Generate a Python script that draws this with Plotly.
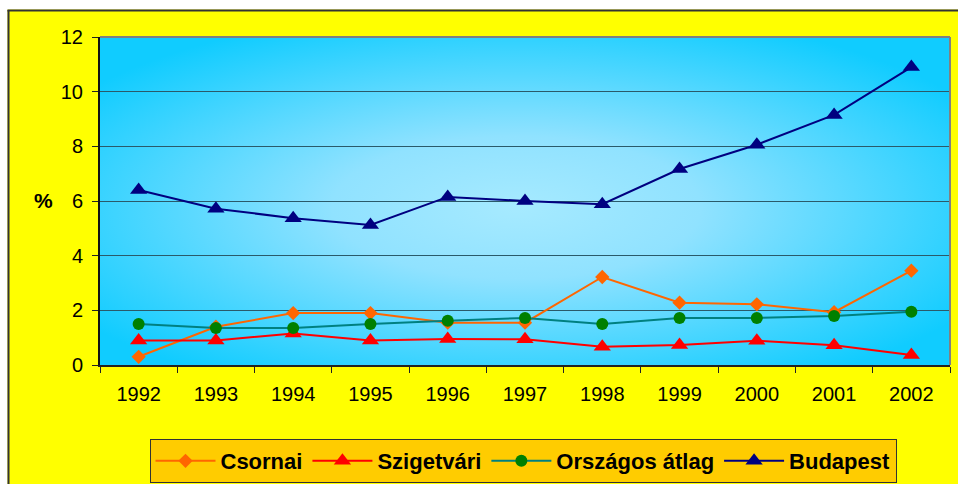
import plotly.graph_objects as go
import urllib.parse

years = ["1992", "1993", "1994", "1995", "1996", "1997", "1998", "1999", "2000", "2001", "2002"]
csornai = [0.3, 1.4, 1.9, 1.9, 1.55, 1.55, 3.22, 2.28, 2.22, 1.93, 3.45]
szigetvari = [0.9, 0.9, 1.15, 0.9, 0.95, 0.94, 0.67, 0.73, 0.89, 0.72, 0.37]
orszagos = [1.5, 1.35, 1.35, 1.5, 1.62, 1.72, 1.5, 1.72, 1.72, 1.79, 1.95]
budapest = [6.4, 5.72, 5.37, 5.12, 6.15, 6.0, 5.88, 7.17, 8.06, 9.15, 10.9]
y_ticks = [0, 2, 4, 6, 8, 10, 12]

W, H = 958, 484
L, R, T, B = 100, 8, 37, 119
pw = W - L - R
ph = H - T - B

svg = ("<svg xmlns='http://www.w3.org/2000/svg' width='850' height='328' preserveAspectRatio='none'>"
       "<defs><radialGradient id='g' cx='0.49' cy='0.52' r='0.62'>"
       "<stop offset='0' stop-color='#A6EAFF'/>"
       "<stop offset='0.35' stop-color='#90E2FF'/>"
       "<stop offset='1' stop-color='#10CCFF'/>"
       "</radialGradient></defs>"
       "<rect width='850' height='328' fill='url(#g)'/></svg>")
src = "data:image/svg+xml;charset=utf-8," + urllib.parse.quote(svg)

fig = go.Figure()

def add(name, vals, color, lcolor, symbol, size):
    fig.add_trace(go.Scatter(
        x=years, y=vals, name=name, mode="lines+markers",
        line=dict(color=lcolor, width=2),
        marker=dict(symbol=symbol, size=size, color=color),
    ))

add("Csornai", csornai, "#FF6600", "#FF6600", "diamond", 11)
add("Szigetvári", szigetvari, "#FF0000", "#FF0000", "triangle-up", 15)
add("Országos átlag", orszagos, "#008000", "#008080", "circle", 12)
add("Budapest", budapest, "#000080", "#000080", "triangle-up", 15)

def px_x(px):
    return (px - L) / pw

def px_y(py):
    return (H - B - py) / ph

shapes = [
    dict(type="rect", xref="paper", yref="paper", x0=px_x(-5), x1=px_x(W + 5), y0=px_y(-5), y1=px_y(9.5),
         fillcolor="white", line=dict(width=0), layer="above"),
    dict(type="rect", xref="paper", yref="paper", x0=px_x(-5), x1=px_x(7.5), y0=px_y(H + 5), y1=px_y(-5),
         fillcolor="white", line=dict(width=0), layer="above"),
    dict(type="line", xref="paper", yref="paper", x0=px_x(7.5), x1=px_x(W + 5), y0=px_y(10.5), y1=px_y(10.5),
         line=dict(color="#333333", width=2), layer="above"),
    dict(type="line", xref="paper", yref="paper", x0=px_x(8.5), x1=px_x(8.5), y0=px_y(10), y1=px_y(H + 5),
         line=dict(color="#333333", width=2), layer="above"),
    dict(type="line", xref="paper", yref="paper", x0=0, x1=1, y0=1, y1=1,
         line=dict(color="#808080", width=2), layer="above"),
    dict(type="line", xref="paper", yref="paper", x0=1, x1=1, y0=0, y1=1,
         line=dict(color="#808080", width=2), layer="above"),
]

fig.update_layout(
    width=W, height=H,
    margin=dict(l=L, r=R, t=T, b=B, autoexpand=False),
    paper_bgcolor="#FFFF00",
    plot_bgcolor="rgba(0,0,0,0)",
    font=dict(family="Arial, Liberation Sans, sans-serif", size=20, color="black"),
    showlegend=True,
    legend=dict(
        orientation="h", x=px_x(523), xanchor="center", y=px_y(483), yanchor="bottom",
        bgcolor="#FFCC00", bordercolor="#333333", borderwidth=1,
        font=dict(family="Arial, Liberation Sans, sans-serif", size=22, color="black", weight="bold"),
        itemwidth=60, tracegroupgap=0,
    ),
    images=[dict(source=src, xref="paper", yref="paper", x=0, y=1, sizex=1, sizey=1,
                 sizing="stretch", xanchor="left", yanchor="top", layer="below")],
    shapes=shapes,
    annotations=[dict(text="<b>%</b>", xref="paper", yref="paper", x=px_x(44), y=px_y(200),
                      xanchor="center", yanchor="middle",
                      showarrow=False, font=dict(size=21, color="black"))],
)

fig.update_xaxes(
    type="category", tickson="boundaries", ticks="outside", ticklen=6, tickcolor="#222222",
    showline=True, linecolor="#222222", linewidth=2, showgrid=False,
    tickfont=dict(size=20), range=[-0.5, 10.5], ticklabelstandoff=10,
)
fig.update_yaxes(
    range=[0, 12], tickvals=y_ticks, ticks="outside", ticklen=6, tickcolor="#222222",
    showline=True, linecolor="#111111", linewidth=2, showgrid=True, gridcolor="#2A5A6A", gridwidth=1.3,
    zeroline=False, tickfont=dict(size=20), ticklabelstandoff=5,
)

post = ("var s=document.documentElement.style;s.margin='0';s.padding='0';s.overflow='hidden';"
        "s.height='484px';var b=document.body.style;b.margin='0';b.padding='0';b.overflow='hidden';b.height='484px';")
fig.write_html("out.html", config={"displayModeBar": False}, post_script=post)
